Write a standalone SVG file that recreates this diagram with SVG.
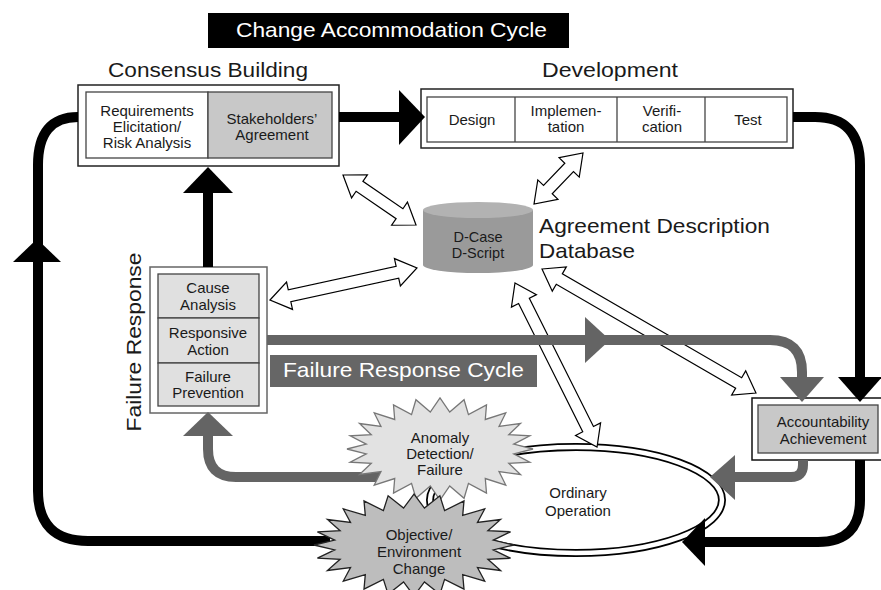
<svg xmlns="http://www.w3.org/2000/svg" width="881" height="590" viewBox="0 0 881 590">
<style>
text{font-family:"Liberation Sans",Arial,sans-serif;fill:#1a1a1a}
.sm{font-size:15px;text-anchor:middle}
.big{font-size:21px}
.wt{fill:#fff}
.ob{fill:#fff;stroke:#222;stroke-width:1.5}
.ib{stroke:#444;stroke-width:1.3}
.blk{fill:none;stroke:#000;stroke-width:10}
.gry{fill:none;stroke:#646464;stroke-width:10}
.hb{fill:#000}
.hg{fill:#646464}
.ha{fill:#fff;stroke:#000;stroke-width:1.2}
</style>
<defs>
<polygon id="star" vector-effect="non-scaling-stroke" points="1,0 0.7932,0.0953 0.9659,0.2588 0.7391,0.2794 0.866,0.5 0.6347,0.4444 0.7071,0.7071 0.487,0.5791 0.5,0.866 0.3061,0.6744 0.2588,0.9659 0.1044,0.7238 0,1 -0.1044,0.7238 -0.2588,0.9659 -0.3061,0.6744 -0.5,0.866 -0.487,0.5791 -0.7071,0.7071 -0.6347,0.4444 -0.866,0.5 -0.7391,0.2794 -0.9659,0.2588 -0.7932,0.0953 -1,0 -0.7932,-0.0953 -0.9659,-0.2588 -0.7391,-0.2794 -0.866,-0.5 -0.6347,-0.4444 -0.7071,-0.7071 -0.487,-0.5791 -0.5,-0.866 -0.3061,-0.6744 -0.2588,-0.9659 -0.1044,-0.7238 0,-1 0.1044,-0.7238 0.2588,-0.9659 0.3061,-0.6744 0.5,-0.866 0.487,-0.5791 0.7071,-0.7071 0.6347,-0.4444 0.866,-0.5 0.7391,-0.2794 0.9659,-0.2588 0.7932,-0.0953"/>
</defs>

<g id="title">
<rect x="208" y="13" width="361" height="35" fill="#000"/>
<text class="big wt" x="236" y="37" textLength="311" lengthAdjust="spacingAndGlyphs">Change Accommodation Cycle</text>
</g>

<g id="consensus-building">
<text class="big" x="108" y="77" textLength="200" lengthAdjust="spacingAndGlyphs">Consensus Building</text>
<rect class="ob" x="78" y="85" width="261" height="81"/>
<rect class="ib" x="86" y="92" width="122" height="66" fill="#fff"/>
<rect class="ib" x="208" y="92" width="124" height="66" fill="#c8c8c8"/>
<text class="sm" x="147" y="116">Requirements</text>
<text class="sm" x="147" y="132">Elicitation/</text>
<text class="sm" x="147" y="148">Risk Analysis</text>
<text class="sm" x="272" y="124">Stakeholders’</text>
<text class="sm" x="272" y="140">Agreement</text>
</g>

<g id="development">
<text class="big" x="542" y="77" textLength="136" lengthAdjust="spacingAndGlyphs">Development</text>
<rect class="ob" x="421" y="89" width="372" height="59"/>
<rect class="ib" x="427" y="97" width="360" height="45" fill="#fff"/>
<line class="ib" x1="515" y1="97" x2="515" y2="142"/>
<line class="ib" x1="617" y1="97" x2="617" y2="142"/>
<line class="ib" x1="705" y1="97" x2="705" y2="142"/>
<text class="sm" x="472" y="125">Design</text>
<text class="sm" x="566" y="116">Implemen-</text>
<text class="sm" x="566" y="132">tation</text>
<text class="sm" x="662" y="116">Verifi-</text>
<text class="sm" x="662" y="132">cation</text>
<text class="sm" x="748" y="125">Test</text>
</g>

<g id="database">
<path d="M423,210 V265 A55,8 0 0 0 533,265 V210 Z" fill="#9a9a9a"/>
<ellipse cx="478" cy="210" rx="55" ry="8" fill="#b2b2b2"/>
<text class="sm" x="478" y="242" style="font-size:14.5px">D-Case</text>
<text class="sm" x="478" y="258" style="font-size:14.5px">D-Script</text>
<text class="big" x="539" y="233" textLength="231" lengthAdjust="spacingAndGlyphs">Agreement Description</text>
<text class="big" x="539" y="258" textLength="96" lengthAdjust="spacingAndGlyphs">Database</text>
</g>

<g id="failure-response">
<text class="big" transform="translate(141,342) rotate(-90)" text-anchor="middle" textLength="179" lengthAdjust="spacingAndGlyphs">Failure Response</text>
<rect x="150" y="267" width="117" height="146" fill="#fff" stroke="#666" stroke-width="1.5"/>
<rect class="ib" x="158" y="274" width="101" height="44" fill="#e0e0e0"/>
<rect class="ib" x="158" y="318" width="101" height="45" fill="#e0e0e0"/>
<rect class="ib" x="158" y="363" width="101" height="43" fill="#e0e0e0"/>
<text class="sm" x="208" y="293">Cause</text>
<text class="sm" x="208" y="310">Analysis</text>
<text class="sm" x="208" y="338">Responsive</text>
<text class="sm" x="208" y="355">Action</text>
<text class="sm" x="208" y="382">Failure</text>
<text class="sm" x="208" y="398">Prevention</text>
</g>

<g id="failure-response-cycle">
<rect x="270" y="355" width="267" height="32" fill="#666"/>
<text class="big wt" x="283" y="377" textLength="241" lengthAdjust="spacingAndGlyphs">Failure Response Cycle</text>
</g>

<g id="accountability">
<rect x="752" y="398" width="135" height="62" fill="#fff" stroke="#111" stroke-width="1.5"/>
<rect class="ib" x="758" y="405" width="120" height="48" fill="#c8c8c8"/>
<text class="sm" x="823" y="427">Accountability</text>
<text class="sm" x="823" y="444">Achievement</text>
</g>

<g id="ordinary-operation">
<ellipse cx="576" cy="500" rx="146" ry="53" fill="#fff" stroke="#000" stroke-width="8"/>
<ellipse cx="576" cy="500" rx="146" ry="53" fill="none" stroke="#fff" stroke-width="4.5"/>
<text class="sm" x="578" y="498">Ordinary</text>
<text class="sm" x="578" y="516">Operation</text>
</g>

<g id="connectors">
<polygon class="ha" transform="translate(343,175) rotate(34.41)" points="0,0 20,-14 20,-6 68.5,-6 68.5,-14 88.5,0 68.5,14 68.5,6 20,6 20,14"/>
<polygon class="ha" transform="translate(583,153) rotate(133.85)" points="0,0 20,-14 20,-6 50.7,-6 50.7,-14 70.7,0 50.7,14 50.7,6 20,6 20,14"/>
<polygon class="ha" transform="translate(270,300) rotate(-12.28)" points="0,0 20,-14 20,-6 130.4,-6 130.4,-14 150.4,0 130.4,14 130.4,6 20,6 20,14"/>
<polygon class="ha" transform="translate(542,269) rotate(30.09)" points="0,0 20,-14 20,-6 227.3,-6 227.3,-14 247.3,0 227.3,14 227.3,6 20,6 20,14"/>
<polygon class="ha" transform="translate(515,283) rotate(63.43)" points="0,0 20,-14 20,-6 163.4,-6 163.4,-14 183.4,0 163.4,14 163.4,6 20,6 20,14"/>

<path class="blk" d="M339,117 H402"/>
<polygon class="hb" points="399,90 425,117 399,145"/>
<path class="blk" d="M208,267 V190"/>
<polygon class="hb" points="183,193 208,167 233,193"/>
<path class="blk" d="M793,117 H815 Q860,117 860,165 V380"/>
<polygon class="hb" points="838,377 860,402 882,377"/>
<path class="blk" d="M860,460 V500 Q860,542 818,542 H702"/>
<polygon class="hb" points="705,518 682,542 705,566"/>
<path class="blk" d="M330,541 H88 Q38,541 38,491 V165 Q38,117 78,117"/>
<polygon class="hb" points="13,262 37,239 61,262"/>

<path class="gry" d="M267,340 H770 Q802,340 802,372 V380"/>
<polygon class="hg" points="585,317 610,340 585,363"/>
<polygon class="hg" points="780,377 802,402 824,377"/>
<path class="gry" d="M803,460 V465 Q803,477 791,477 H732"/>
<polygon class="hg" points="735,455 710,477 735,500"/>
<path class="gry" d="M380,477 H236 Q208,477 208,449 V434"/>
<polygon class="hg" points="183,436 208,412 233,436"/>
</g>

<g id="anomaly-detection">
<use href="#star" transform="translate(440,449) scale(93,51)" fill="#e2e2e2" stroke="#777" stroke-width="1.3"/>
<text class="sm" x="440" y="443">Anomaly</text>
<text class="sm" x="440" y="459">Detection/</text>
<text class="sm" x="440" y="475">Failure</text>
</g>

<g id="objective-change">
<use href="#star" transform="translate(414,545) scale(100,51)" fill="#bdbdbd" stroke="#222" stroke-width="1.3"/>
<text class="sm" x="419" y="540">Objective/</text>
<text class="sm" x="419" y="557">Environment</text>
<text class="sm" x="419" y="574">Change</text>
</g>
</svg>
